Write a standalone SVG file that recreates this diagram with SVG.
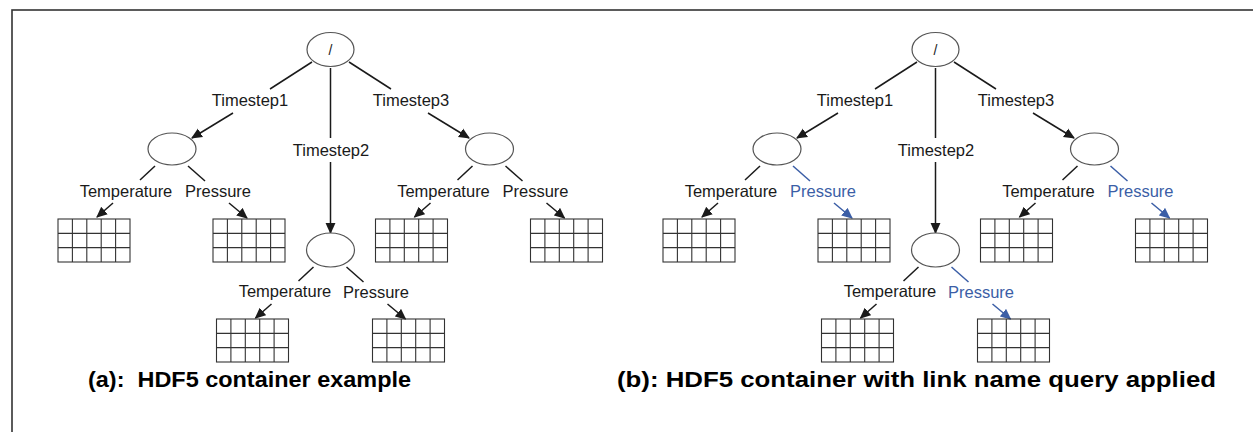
<svg xmlns="http://www.w3.org/2000/svg" xmlns:xlink="http://www.w3.org/1999/xlink" width="1253" height="432" viewBox="0 0 1253 432">
<style>
.lbl{font-family:"Liberation Sans",Arial,sans-serif;font-size:16.5px;fill:#1a1a1a;text-anchor:middle}
.blue{fill:#3b5ea6}
.node{fill:#fff;stroke:#555;stroke-width:1.2}
.edge{stroke:#1a1a1a;stroke-width:1.5;fill:none}
.edgeb{stroke:#3b5ea6;stroke-width:1.5;fill:none}
.arr{marker-end:url(#ah)}
.arrb{marker-end:url(#ahb)}
.cap{font-family:"Liberation Sans",Arial,sans-serif;font-weight:bold;font-size:22.5px;fill:#000;white-space:pre}
.gl{stroke:#333;stroke-width:1.1;fill:none}
</style>
<defs>
<marker id="ah" markerUnits="userSpaceOnUse" markerWidth="11" markerHeight="11" viewBox="0 0 10 10" refX="9" refY="5" orient="auto">
<path d="M0,0.5 L10,5 L0,9.5 z" fill="#1a1a1a"/>
</marker>
<marker id="ahb" markerUnits="userSpaceOnUse" markerWidth="11" markerHeight="11" viewBox="0 0 10 10" refX="9" refY="5" orient="auto">
<path d="M0,0.5 L10,5 L0,9.5 z" fill="#3b5ea6"/>
</marker>
<g id="grid">
<rect class="gl" x="0" y="0" width="72" height="43" fill="#fff"/>
<path class="gl" d="M14.4,0V43M28.8,0V43M43.2,0V43M57.6,0V43M0,14.33H72M0,28.67H72"/>
</g>
</defs>
<rect x="0" y="0" width="1253" height="432" fill="#fff"/>
<rect x="12" y="10" width="1260" height="440" fill="none" stroke="#333" stroke-width="1.6"/>

<!-- Panel (a) -->
<g id="panel-a">
<g id="a-connectors">
<line class="edge" x1="312" y1="62" x2="270" y2="89"/>
<line class="edge arr" x1="233" y1="113" x2="192" y2="138"/>
<line class="edge" x1="330.5" y1="68" x2="330.5" y2="138"/>
<line class="edge arr" x1="330.5" y1="162" x2="330.5" y2="233"/>
<line class="edge" x1="349" y1="62" x2="391" y2="89"/>
<line class="edge arr" x1="428" y1="113" x2="469" y2="138"/>
<line class="edge" x1="155" y1="166" x2="140" y2="180"/>
<line class="edge" x1="188" y1="166" x2="205" y2="181"/>
<line class="edge arr" x1="113" y1="203" x2="97" y2="217"/>
<line class="edge arr" x1="229" y1="203" x2="247" y2="218"/>
<line class="edge" x1="313.5" y1="267" x2="298.5" y2="281"/>
<line class="edge" x1="346.5" y1="267" x2="363.5" y2="282"/>
<line class="edge arr" x1="271.5" y1="304" x2="255.5" y2="318"/>
<line class="edge arr" x1="387.5" y1="304" x2="405.5" y2="319"/>
<line class="edge" x1="472.5" y1="166" x2="457.5" y2="180"/>
<line class="edge" x1="505.5" y1="166" x2="522.5" y2="181"/>
<line class="edge arr" x1="430.5" y1="203" x2="414.5" y2="217"/>
<line class="edge arr" x1="546.5" y1="203" x2="564.5" y2="218"/>
</g>
<g id="a-root"><ellipse class="node" cx="330.5" cy="49.5" rx="23.5" ry="17"/><text class="lbl" x="330.5" y="55" style="font-size:14px">/</text></g>
<g id="a-label-t1"><text class="lbl" x="250" y="106">Timestep1</text></g>
<g id="a-label-t2"><text class="lbl" x="331" y="156">Timestep2</text></g>
<g id="a-label-t3"><text class="lbl" x="411" y="106">Timestep3</text></g>
<g id="a-ts1"><ellipse class="node" cx="172" cy="149" rx="24" ry="16"/>
<text class="lbl" x="126" y="197">Temperature</text><text class="lbl" x="218" y="197">Pressure</text>
<use href="#grid" x="58" y="219"/><use href="#grid" x="213" y="219"/></g>
<g id="a-ts2"><ellipse class="node" cx="330.5" cy="250" rx="24" ry="17"/>
<text class="lbl" x="285" y="297">Temperature</text><text class="lbl" x="376" y="298">Pressure</text>
<use href="#grid" x="216.5" y="319"/><use href="#grid" x="372.5" y="319"/></g>
<g id="a-ts3"><ellipse class="node" cx="489.5" cy="149" rx="24" ry="16"/>
<text class="lbl" x="443.5" y="197">Temperature</text><text class="lbl" x="535.5" y="197">Pressure</text>
<use href="#grid" x="375.5" y="219"/><use href="#grid" x="530.5" y="219"/></g>
<g id="a-caption"><text class="cap" x="88" y="387" textLength="323" lengthAdjust="spacingAndGlyphs" xml:space="preserve">(a):  HDF5 container example</text></g>
</g>

<!-- Panel (b) -->
<g id="panel-b" transform="translate(605,0)">
<g id="b-connectors">
<line class="edge" x1="312" y1="62" x2="270" y2="89"/>
<line class="edge arr" x1="233" y1="113" x2="192" y2="138"/>
<line class="edge" x1="330.5" y1="68" x2="330.5" y2="138"/>
<line class="edge arr" x1="330.5" y1="162" x2="330.5" y2="233"/>
<line class="edge" x1="349" y1="62" x2="391" y2="89"/>
<line class="edge arr" x1="428" y1="113" x2="469" y2="138"/>
<line class="edge" x1="155" y1="166" x2="140" y2="180"/>
<line class="edgeb" x1="188" y1="166" x2="205" y2="181"/>
<line class="edge arr" x1="113" y1="203" x2="97" y2="217"/>
<line class="edgeb arrb" x1="229" y1="203" x2="247" y2="218"/>
<line class="edge" x1="313.5" y1="267" x2="298.5" y2="281"/>
<line class="edgeb" x1="346.5" y1="267" x2="363.5" y2="282"/>
<line class="edge arr" x1="271.5" y1="304" x2="255.5" y2="318"/>
<line class="edgeb arrb" x1="387.5" y1="304" x2="405.5" y2="319"/>
<line class="edge" x1="472.5" y1="166" x2="457.5" y2="180"/>
<line class="edgeb" x1="505.5" y1="166" x2="522.5" y2="181"/>
<line class="edge arr" x1="430.5" y1="203" x2="414.5" y2="217"/>
<line class="edgeb arrb" x1="546.5" y1="203" x2="564.5" y2="218"/>
</g>
<g id="b-root"><ellipse class="node" cx="330.5" cy="49.5" rx="23.5" ry="17"/><text class="lbl" x="330.5" y="55" style="font-size:14px">/</text></g>
<g id="b-label-t1"><text class="lbl" x="250" y="106">Timestep1</text></g>
<g id="b-label-t2"><text class="lbl" x="331" y="156">Timestep2</text></g>
<g id="b-label-t3"><text class="lbl" x="411" y="106">Timestep3</text></g>
<g id="b-ts1"><ellipse class="node" cx="172" cy="149" rx="24" ry="16"/>
<text class="lbl" x="126" y="197">Temperature</text><text class="lbl blue" x="218" y="197">Pressure</text>
<use href="#grid" x="58" y="219"/><use href="#grid" x="213" y="219"/></g>
<g id="b-ts2"><ellipse class="node" cx="330.5" cy="250" rx="24" ry="17"/>
<text class="lbl" x="285" y="297">Temperature</text><text class="lbl blue" x="376" y="298">Pressure</text>
<use href="#grid" x="216.5" y="319"/><use href="#grid" x="372.5" y="319"/></g>
<g id="b-ts3"><ellipse class="node" cx="489.5" cy="149" rx="24" ry="16"/>
<text class="lbl" x="443.5" y="197">Temperature</text><text class="lbl blue" x="535.5" y="197">Pressure</text>
<use href="#grid" x="375.5" y="219"/><use href="#grid" x="530.5" y="219"/></g>
</g>
<g id="b-caption"><text class="cap" x="617" y="387" textLength="599" lengthAdjust="spacingAndGlyphs">(b): HDF5 container with link name query applied</text></g>
</svg>
